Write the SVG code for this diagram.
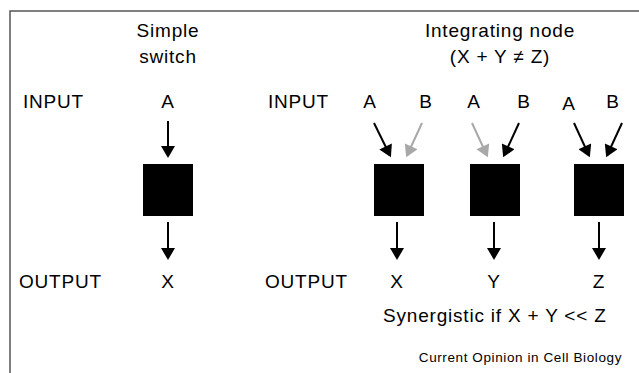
<svg xmlns="http://www.w3.org/2000/svg" width="639" height="373" viewBox="0 0 639 373">
<style>
text{font-family:"Liberation Sans",Arial,sans-serif;fill:#000;}
.t{font-size:19px;letter-spacing:0.8px;}
.c{text-anchor:middle;}
.a{stroke:#000;stroke-width:2;fill:none;}
.g{stroke:#a8a8a8;stroke-width:2;fill:none;}
.node{fill:#000;}
</style>
<defs>
<marker id="hb" markerUnits="userSpaceOnUse" markerWidth="14" markerHeight="14" viewBox="0 0 12 14" refX="10" refY="7" orient="auto">
<path d="M0,0 L12,7 L0,14 z" fill="#000"/>
</marker>
<marker id="hg" markerUnits="userSpaceOnUse" markerWidth="14" markerHeight="14" viewBox="0 0 12 14" refX="10" refY="7" orient="auto">
<path d="M0,0 L12,7 L0,14 z" fill="#a8a8a8"/>
</marker>
</defs>
<rect width="639" height="373" fill="#fff"/>
<path d="M10,373 V11 H639" fill="none" stroke="#555" stroke-width="1.5"/>

<g id="labels">
<text class="t c" x="168" y="37">Simple</text>
<text class="t c" x="168" y="63">switch</text>
<text class="t c" x="500" y="37">Integrating node</text>
<text class="t c" x="500" y="63">(X + Y ≠ Z)</text>
<text class="t" x="23" y="108">INPUT</text>
<text class="t" x="268" y="108">INPUT</text>
<text class="t" x="19" y="288">OUTPUT</text>
<text class="t" x="265" y="288">OUTPUT</text>
<text class="t c" x="168" y="108">A</text>
<text class="t c" x="370" y="108">A</text>
<text class="t c" x="426" y="108">B</text>
<text class="t c" x="474" y="108">A</text>
<text class="t c" x="524" y="108">B</text>
<text class="t c" x="569" y="110">A</text>
<text class="t c" x="613" y="108">B</text>
<text class="t c" x="168" y="288">X</text>
<text class="t c" x="397" y="288">X</text>
<text class="t c" x="494" y="288">Y</text>
<text class="t c" x="599" y="288">Z</text>
<text class="t" x="383" y="322">Synergistic if X + Y &lt;&lt; Z</text>
<text x="622" y="362" font-size="13.5" letter-spacing="0.6" text-anchor="end">Current Opinion in Cell Biology</text>
</g>

<g id="node-switch"><rect class="node" x="143" y="164" width="50" height="52"/></g>
<g id="node-int1"><rect class="node" x="374" y="164" width="50" height="52"/></g>
<g id="node-int2"><rect class="node" x="470" y="164" width="50" height="52"/></g>
<g id="node-int3"><rect class="node" x="574" y="164" width="50" height="52"/></g>

<g id="connectors">
<line class="a" x1="168" y1="121" x2="168" y2="156" marker-end="url(#hb)"/>
<line class="a" x1="168" y1="222" x2="168" y2="258" marker-end="url(#hb)"/>
<line class="a" x1="374" y1="123" x2="390" y2="155.5" marker-end="url(#hb)"/>
<line class="g" x1="422" y1="123" x2="407" y2="155.5" marker-end="url(#hg)"/>
<line class="g" x1="472" y1="123" x2="487" y2="155.5" marker-end="url(#hg)"/>
<line class="a" x1="519" y1="123" x2="504" y2="155.5" marker-end="url(#hb)"/>
<line class="a" x1="574" y1="123" x2="589" y2="155.5" marker-end="url(#hb)"/>
<line class="a" x1="622" y1="123" x2="607" y2="155.5" marker-end="url(#hb)"/>
<line class="a" x1="397" y1="222" x2="397" y2="258" marker-end="url(#hb)"/>
<line class="a" x1="494" y1="222" x2="494" y2="258" marker-end="url(#hb)"/>
<line class="a" x1="599" y1="222" x2="599" y2="258" marker-end="url(#hb)"/>
</g>
</svg>
